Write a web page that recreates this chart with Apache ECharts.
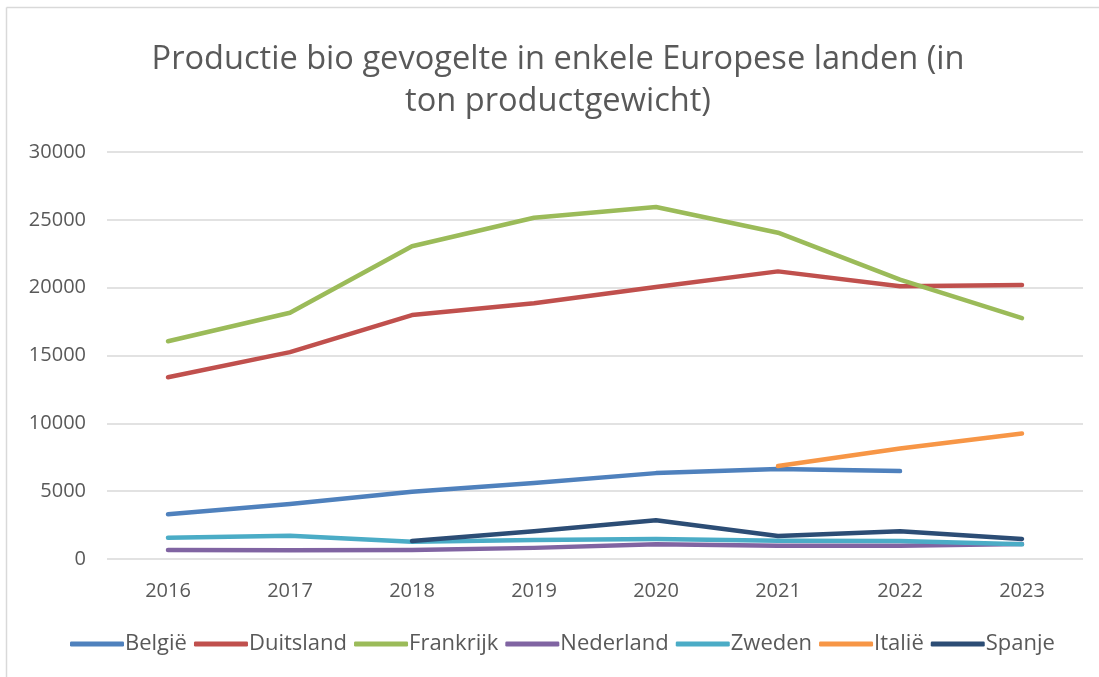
<!DOCTYPE html>
<html><head><meta charset="utf-8">
<script src="https://cdn.jsdelivr.net/npm/echarts@6/dist/echarts.min.js"></script>
<style>html,body{margin:0;padding:0;background:#fff}#c{width:1099px;height:677px}</style>
</head><body><div id="c"></div>
<script>
const years = ['2016','2017','2018','2019','2020','2021','2022','2023'];
const belgie = [3300, 4050, 4950, 5600, 6330, 6630, 6480, null];
const duitsland = [13400, 15250, 17980, 18850, 20050, 21200, 20100, 20200];
const frankrijk = [16050, 18150, 23050, 25150, 25950, 24050, 20600, 17750];
const nederland = [660, 640, 660, 820, 1080, 980, 980, 1100];
const zweden = [1570, 1720, 1280, 1400, 1470, 1350, 1330, 1080];
const italie = [null, null, null, null, null, 6850, 8150, 9250];
const spanje = [null, null, 1320, 2050, 2850, 1700, 2050, 1480];
const yTicks = [0, 5000, 10000, 15000, 20000, 25000, 30000];

const names = ['België','Duitsland','Frankrijk','Nederland','Zweden','Italië','Spanje'];
const datasets = [belgie, duitsland, frankrijk, nederland, zweden, italie, spanje];
const colors = ['#4f81bd','#c0504d','#9bbb59','#8064a2','#4bacc6','#f79646','#2c4d75'];
const font = 'Open Sans';

const chart = echarts.init(document.getElementById('c'));
chart.setOption({
  animation: false,
  color: colors,
  title: {
    text: 'Productie bio gevogelte in enkele Europese landen (in\nton productgewicht)',
    left: 558, textAlign: 'center', top: 39, padding: 0,
    textStyle: {fontFamily: font, fontSize: 32.6, fontWeight: 'normal', color: '#595959', lineHeight: 42}
  },
  graphic: [
    {type: 'line', shape: {x1: 6.5, y1: 7.5, x2: 1099, y2: 7.5}, style: {stroke: '#d9d9d9', lineWidth: 1.5}},
    {type: 'line', shape: {x1: 6.5, y1: 7.5, x2: 6.5, y2: 677}, style: {stroke: '#d9d9d9', lineWidth: 1.5}}
  ],
  legend: {
    top: 628, left: 65, itemWidth: 54, itemHeight: 5, itemGap: 7,
    icon: 'roundRect',
    textStyle: {fontFamily: font, fontSize: 22, color: '#595959', padding: [0,0,0,-4]},
    data: names
  },
  grid: {left: 107, right: 16, top: 152, bottom: 118},
  xAxis: {
    type: 'category', data: years, boundaryGap: true,
    axisLine: {show: false}, axisTick: {show: false},
    axisLabel: {fontFamily: font, fontSize: 20, color: '#595959', margin: 22}
  },
  yAxis: {
    type: 'value', min: yTicks[0], max: yTicks[yTicks.length - 1], interval: 5000,
    axisLine: {show: false}, axisTick: {show: false},
    axisLabel: {fontFamily: font, fontSize: 20, color: '#595959', margin: 21, formatter: v => String(v)},
    splitLine: {lineStyle: {color: '#d9d9d9', width: 1.5}}
  },
  series: datasets.map((d, i) => ({
    name: names[i], type: 'line', data: d, showSymbol: false, symbol: 'none',
    lineStyle: {width: 4.5, cap: 'round', join: 'round'}, connectNulls: false
  }))
});
</script></body></html>
